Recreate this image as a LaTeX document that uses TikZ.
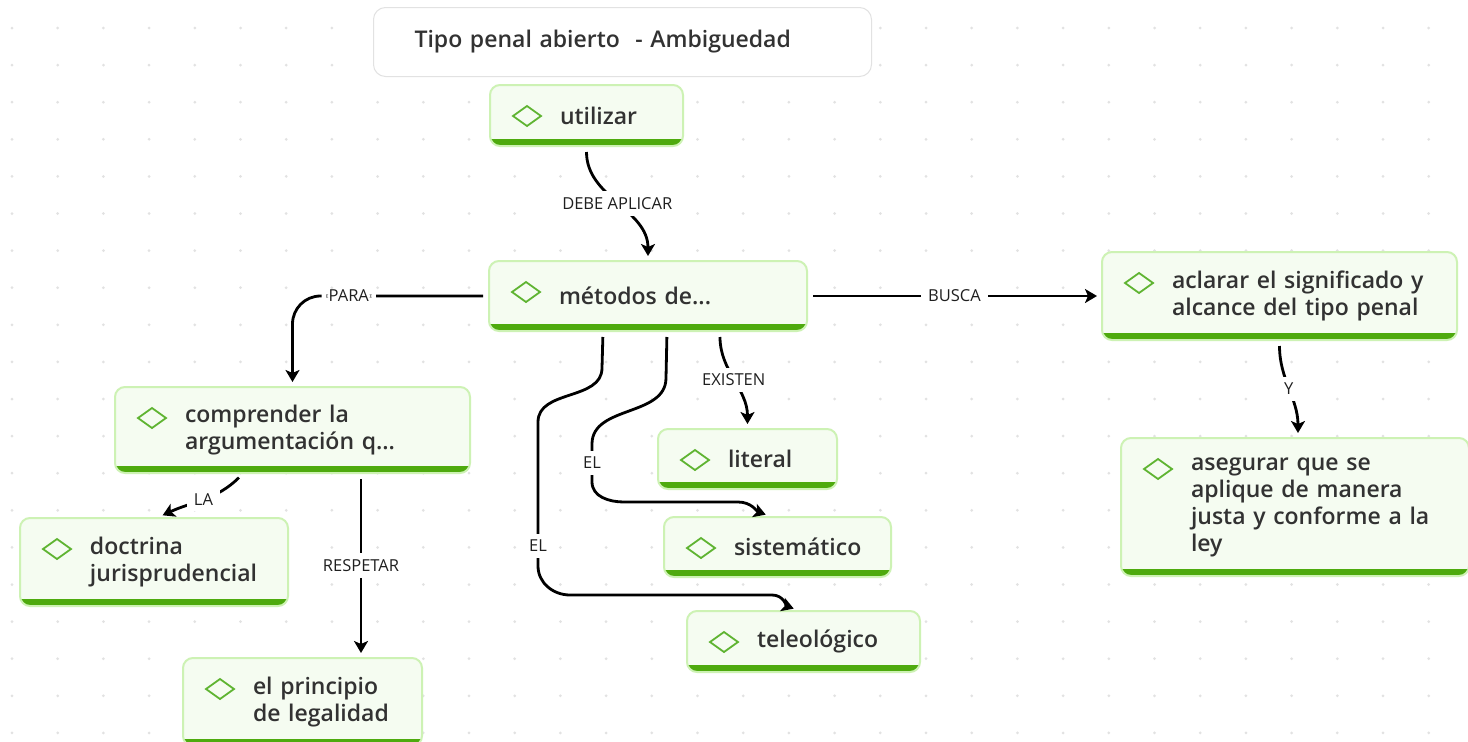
\documentclass[tikz,border=0pt]{standalone}
\usepackage{fontspec}
\IfFontExistsTF{Open Sans SemiBold}%
  {\newfontfamily\nodofont{Open Sans SemiBold}}%
  {\IfFontExistsTF{Open Sans Semibold}%
    {\newfontfamily\nodofont{Open Sans Semibold}}%
    {\IfFontExistsTF{Fira Sans SemiBold}%
      {\newfontfamily\nodofont{Fira Sans SemiBold}}%
      {\newfontfamily\nodofont{Open Sans}[FakeBold=2.2]}}}
\newfontfamily\etiqfont{Open Sans}
\usetikzlibrary{arrows.meta}

\definecolor{verdefondo}{RGB}{245,252,241}
\definecolor{verdeborde}{RGB}{205,242,180}
\definecolor{verdebarra}{RGB}{78,170,14}
\definecolor{verderombo}{RGB}{95,180,50}
\definecolor{textogris}{RGB}{50,50,50}
\definecolor{puntogris}{RGB}{226,226,226}
\definecolor{bordetitulo}{RGB}{226,226,226}

\tikzset{
  concepto/.style={draw=verdeborde, line width=2pt, fill=verdefondo, rounded corners=10pt,
    anchor=north west, inner xsep=10pt, inner ysep=4pt, align=left, text=textogris,
    font=\nodofont\fontsize{23}{27}\selectfont,
    execute at begin node={\leftskip=60pt},
    path picture={
      \fill[verdebarra, sharp corners] ([yshift=1pt]path picture bounding box.south west)
        rectangle ([yshift=7pt]path picture bounding box.south east);
      \draw[verderombo, line width=1.8pt, sharp corners]
        ([xshift=37pt,yshift=-31pt]path picture bounding box.north west)
        +(-14pt,0) -- +(0,10pt) -- +(14pt,0) -- +(0,-10pt) -- cycle;
    }},
  titulo/.style={draw=bordetitulo, line width=1pt, fill=white, rounded corners=12pt,
    anchor=north west, inner xsep=41pt, align=left, text=textogris,
    font=\nodofont\fontsize{23}{27}\selectfont},
  enlace/.style={draw=black, line width=2.8pt,
    -{Stealth[length=12pt,width=14pt,inset=3pt]}, shorten <=5pt, shorten >=4pt},
  etiqueta/.style={fill=white, inner xsep=7pt, inner ysep=6pt, text=black!88,
    font=\etiqfont\fontsize{16.5}{18}\selectfont}
}

\begin{document}
\begin{tikzpicture}[x=1pt, y=1pt] % 1 Einheit = 1 Pixel

  \fill[white] (0,0) rectangle (1468,-742);
  \useasboundingbox (0,0) rectangle (1468,-742);

  % Punkteraster im Hintergrund
  \foreach \i in {0,...,31} {
    \foreach \j in {0,...,19} {
      \fill[puntogris] ({12+45.7*\i},{-28-37.1*\j}) circle (1.5pt);
    }
  }

  % Titel
  \node[titulo, text width=416pt, minimum height=69pt] (tit) at (373,-7) {Tipo penal abierto\ \ - Ambiguedad};

  % Begriffe
  \node[concepto, text width=173pt, minimum height=61pt] (utilizar) at (489,-84) {utilizar};
  \node[concepto, text width=298pt, minimum height=70pt] (metodos) at (488,-260) {métodos de...};
  \node[concepto, text width=335pt, minimum height=88pt] (aclarar) at (1101,-251) {aclarar el significado y\\alcance del tipo penal};
  \node[concepto, text width=335pt, minimum height=86pt] (comprender) at (114,-386) {comprender la\\argumentación q...};
  \node[concepto, text width=248pt, minimum height=88pt] (doctrina) at (19,-517) {doctrina\\jurisprudencial};
  \node[concepto, text width=219pt, minimum height=88pt] (principio) at (182,-657) {el principio\\de legalidad};
  \node[concepto, text width=159pt, minimum height=60pt] (literal) at (657,-428) {literal};
  \node[concepto, text width=207pt, minimum height=60pt] (sistematico) at (663,-516) {sistemático};
  \node[concepto, text width=213pt, minimum height=61pt] (teleologico) at (686,-610) {teleológico};
  \node[concepto, text width=328pt, minimum height=138pt] (asegurar) at (1120,-437) {asegurar que se\\aplique de manera\\justa y conforme a la\\ley};

  % Verbindungen
  \draw[enlace] (utilizar.south) to[out=-90,in=90] node[etiqueta]{DEBE APLICAR} (metodos.north);
  \draw[enlace, rounded corners=28pt] (metodos.west) -| node[etiqueta, pos=0.356]{PARA} (comprender.north);
  \draw[enlace] (metodos.east) -- node[etiqueta]{BUSCA} (aclarar.west);
  \draw[enlace] ([xshift=72pt]metodos.south) to[out=-90,in=90] node[etiqueta]{EXISTEN} (literal.north);
  \draw[enlace] ([xshift=19pt]metodos.south) -- (666,-378) to[out=-90,in=90] (592,-444)
    -- node[etiqueta]{EL} (592,-482) to[out=-90,in=180] (624,-502) -- (738,-502)
    to[out=0,in=160] ([xshift=-8pt]sistematico.north);
  \draw[enlace] ([xshift=-45pt]metodos.south) -- (602,-368) to[out=-90,in=90] (538,-422)
    -- node[etiqueta, pos=0.86]{EL} (538,-566) to[out=-90,in=180] (570,-595) -- (772,-595)
    to[out=0,in=160] ([xshift=-6pt]teleologico.north);
  \draw[enlace] ([xshift=-50pt]comprender.south) to[out=-135,in=25] node[etiqueta]{LA} ([xshift=5pt]doctrina.north);
  \draw[enlace] ([xshift=68.5pt]comprender.south) -- node[etiqueta]{RESPETAR} ([xshift=58.5pt]principio.north);
  \draw[enlace] (aclarar.south) to[out=-90,in=90] node[etiqueta]{Y} ([xshift=3pt]asegurar.north);

\end{tikzpicture}
\end{document}
